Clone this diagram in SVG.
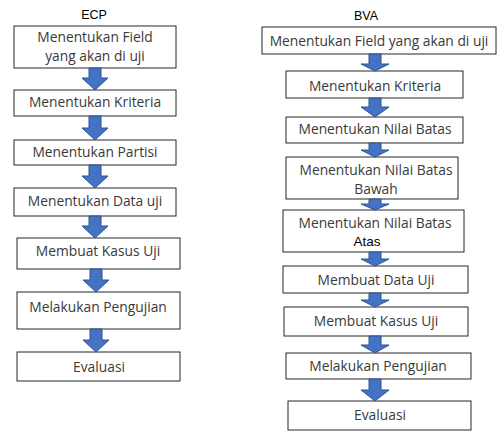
<svg xmlns="http://www.w3.org/2000/svg" width="497" height="431" viewBox="0 0 497 431">
  <style>
    .box { fill: #ffffff; stroke: #262626; stroke-width: 1; }
    .lbl { font-family: "Open Sans", "Liberation Sans", sans-serif; font-size: 13.8px; fill: #3a3a3a; text-anchor: middle; }
    .ttl { font-family: "Liberation Sans", Arial, sans-serif; font-size: 12.5px; fill: #000000; text-anchor: middle; }
    .blk { font-family: "Liberation Sans", Arial, sans-serif; font-size: 13.5px; fill: #000000; text-anchor: middle; }
    .arr { fill: #4472C4; stroke: #2F528F; stroke-width: 1; }
  </style>
  <rect width="497" height="431" fill="#ffffff"/>

  <!-- column titles -->
  <text class="ttl" x="94" y="19">ECP</text>
  <text class="ttl" x="366" y="20">BVA</text>

  <!-- ECP flow -->
  <g id="ecp-field"><rect class="box" x="14" y="26" width="162" height="42"/>
    <text class="lbl" x="95" y="42">Menentukan Field</text>
    <text class="lbl" x="95" y="61">yang akan di uji</text></g>
  <g id="ecp-kriteria"><rect class="box" x="14" y="90" width="162" height="26"/>
    <text class="lbl" x="95" y="107">Menentukan Kriteria</text></g>
  <g id="ecp-partisi"><rect class="box" x="14" y="140" width="162" height="25"/>
    <text class="lbl" x="95" y="157">Menentukan Partisi</text></g>
  <g id="ecp-data"><rect class="box" x="14" y="188" width="162" height="28"/>
    <text class="lbl" x="95" y="206">Menentukan Data uji</text></g>
  <g id="ecp-kasus"><rect class="box" x="17" y="238" width="163" height="31"/>
    <text class="lbl" x="98" y="256">Membuat Kasus Uji</text></g>
  <g id="ecp-uji"><rect class="box" x="17" y="292" width="163" height="37"/>
    <text class="lbl" x="98" y="312">Melakukan Pengujian</text></g>
  <g id="ecp-evaluasi"><rect class="box" x="17" y="352" width="163" height="29"/>
    <text class="lbl" x="99" y="372">Evaluasi</text></g>

  <!-- BVA flow -->
  <g id="bva-field"><rect class="box" x="262" y="27" width="234" height="27"/>
    <text class="lbl" x="379" y="46">Menentukan Field yang akan di uji</text></g>
  <g id="bva-kriteria"><rect class="box" x="286" y="71" width="177" height="27"/>
    <text class="lbl" x="375" y="91">Menentukan Kriteria</text></g>
  <g id="bva-nilai"><rect class="box" x="286" y="117" width="177" height="26"/>
    <text class="lbl" x="375" y="134">Menentukan Nilai Batas</text></g>
  <g id="bva-bawah"><rect class="box" x="286" y="157" width="172" height="42"/>
    <text class="lbl" x="376" y="175">Menentukan Nilai Batas</text>
    <text class="lbl" x="376" y="194">Bawah</text></g>
  <g id="bva-atas"><rect class="box" x="283" y="210" width="181" height="42"/>
    <text class="lbl" x="375" y="228">Menentukan Nilai Batas</text>
    <text class="blk" x="367" y="246">Atas</text></g>
  <g id="bva-data"><rect class="box" x="283" y="266" width="185" height="27"/>
    <text class="lbl" x="376" y="285">Membuat Data Uji</text></g>
  <g id="bva-kasus"><rect class="box" x="284" y="307" width="184" height="29"/>
    <text class="lbl" x="376" y="326">Membuat Kasus Uji</text></g>
  <g id="bva-uji"><rect class="box" x="286" y="353" width="185" height="26"/>
    <text class="lbl" x="378" y="371">Melakukan Pengujian</text></g>
  <g id="bva-evaluasi"><rect class="box" x="288" y="401" width="183" height="29"/>
    <text class="lbl" x="380" y="420">Evaluasi</text></g>

  <!-- block arrows between steps -->
  <g id="connectors">
    <polygon class="arr" points="89,68 101,68 101,78 108,78 95,90 82,78 89,78"/>
    <polygon class="arr" points="89,116 101,116 101,128 108,128 95,140 82,128 89,128"/>
    <polygon class="arr" points="89,165 101,165 101,176 108,176 95,188 82,176 89,176"/>
    <polygon class="arr" points="89,216 101,216 101,226 108,226 95,238 82,226 89,226"/>
    <polygon class="arr" points="90,269 102,269 102,280 109,280 96,292 83,280 90,280"/>
    <polygon class="arr" points="90,329 102,329 102,340 109,340 96,352 83,340 90,340"/>

    <polygon class="arr" points="369,54 381,54 381,64 389,64 375,71 361,64 369,64"/>
    <polygon class="arr" points="369,98 381,98 381,107 389,107 375,117 361,107 369,107"/>
    <polygon class="arr" points="369,143 381,143 381,150 389,150 375,157 361,150 369,150"/>
    <polygon class="arr" points="369,199 381,199 381,204 389,204 375,210 361,204 369,204"/>
    <polygon class="arr" points="369,252 381,252 381,259 389,259 375,266 361,259 369,259"/>
    <polygon class="arr" points="369,293 381,293 381,300 389,300 375,307 361,300 369,300"/>
    <polygon class="arr" points="369,336 381,336 381,345 389,345 375,353 361,345 369,345"/>
    <polygon class="arr" points="369,379 381,379 381,390 389,390 375,401 361,390 369,390"/>
  </g>
</svg>
